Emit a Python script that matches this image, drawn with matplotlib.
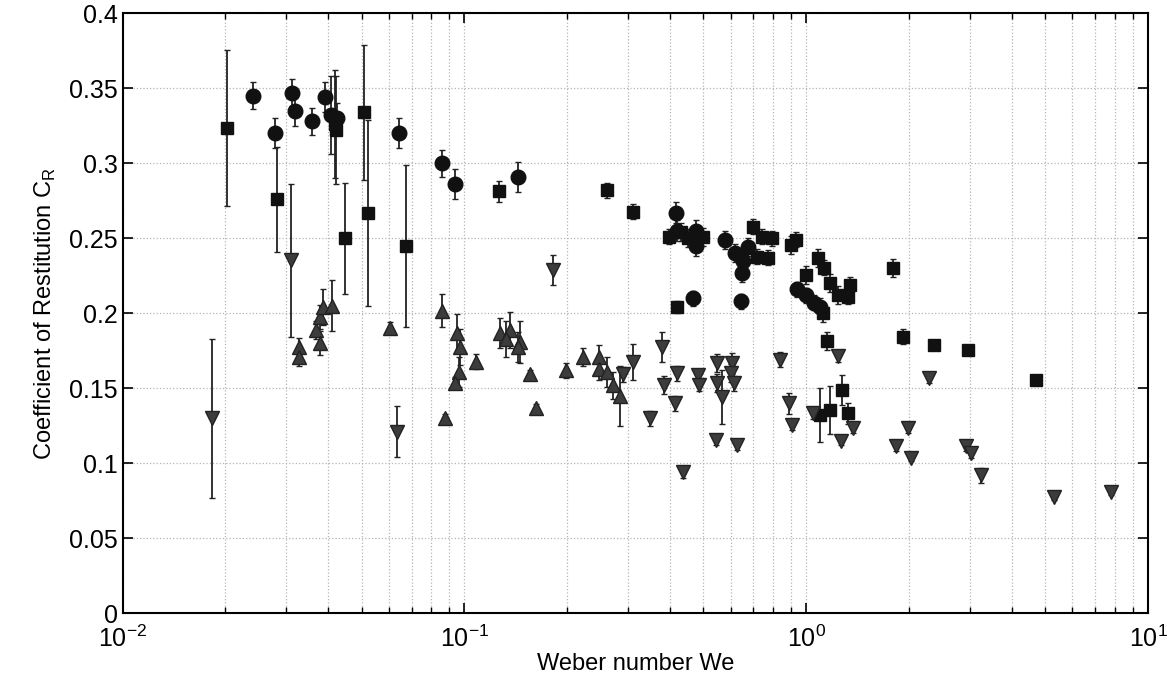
import matplotlib
matplotlib.use('Agg')
import matplotlib.pyplot as plt
import numpy as np

# circles
circ_we = [0.024, 0.0279, 0.0313, 0.0319, 0.0359, 0.0392, 0.0408, 0.0425, 0.0644, 0.0858,
           0.0938, 0.143, 0.4155, 0.417, 0.477, 0.477, 0.4645, 0.5775, 0.618, 0.646,
           0.644, 0.676, 0.654, 0.940, 1.0, 1.05, 1.096]
circ_cr = [0.345, 0.320, 0.347, 0.335, 0.328, 0.344, 0.332, 0.330, 0.320, 0.300,
           0.286, 0.291, 0.267, 0.255, 0.255, 0.245, 0.210, 0.249, 0.240, 0.2265,
           0.208, 0.244, 0.235, 0.216, 0.212, 0.207, 0.204]
circ_err = [0.009, 0.010, 0.009, 0.010, 0.009, 0.010, 0.026, 0.010, 0.010, 0.009,
            0.010, 0.010, 0.007, 0.007, 0.007, 0.007, 0.005, 0.006, 0.006, 0.006,
            0.005, 0.006, 0.006, 0.005, 0.005, 0.005, 0.006]

# squares
sq_we = [0.0202, 0.0283, 0.0418, 0.0422, 0.0447, 0.0508, 0.0522, 0.0673, 0.1263, 0.262,
         0.3115, 0.397, 0.417, 0.43, 0.45, 0.50, 0.699, 0.740, 0.791, 0.773,
         0.719, 0.899, 0.932, 1.0, 1.084, 1.129, 1.172, 1.24, 1.327, 1.342,
         1.120, 1.147, 1.789, 1.922, 2.369, 2.96, 4.68, 1.268, 1.096, 1.172, 1.327]
sq_cr = [0.3236, 0.2758, 0.326, 0.322, 0.250, 0.334, 0.2664, 0.245, 0.2813, 0.282,
         0.2676, 0.2509, 0.2042, 0.254, 0.250, 0.251, 0.2575, 0.251, 0.2498, 0.237,
         0.2376, 0.2453, 0.2487, 0.2253, 0.2364, 0.2302, 0.2198, 0.212, 0.2109, 0.2187,
         0.1998, 0.1815, 0.2298, 0.1842, 0.1787, 0.1753, 0.1553, 0.1487, 0.132, 0.1353, 0.1331]
sq_err = [0.052, 0.035, 0.036, 0.036, 0.037, 0.045, 0.062, 0.054, 0.007, 0.005,
          0.005, 0.005, 0.004, 0.006, 0.006, 0.006, 0.005, 0.005, 0.005, 0.005,
          0.005, 0.006, 0.005, 0.006, 0.006, 0.005, 0.006, 0.006, 0.005, 0.005,
          0.006, 0.006, 0.006, 0.005, 0.003, 0.003, 0.003, 0.010, 0.018, 0.016, 0.007]

# up triangles
up_we = [0.0328, 0.0328, 0.0369, 0.0377, 0.0377, 0.0386, 0.0409, 0.0604, 0.0858, 0.0878,
         0.0948, 0.0968, 0.0966, 0.0937, 0.1084, 0.1268, 0.1357, 0.1326, 0.1451, 0.1433,
         0.1553, 0.1617, 0.198, 0.2225, 0.2476, 0.2476, 0.2603, 0.2723, 0.2848]
up_cr = [0.1776, 0.1704, 0.189, 0.180, 0.1976, 0.204, 0.2047, 0.190, 0.2016, 0.1298,
         0.1864, 0.1776, 0.161, 0.1536, 0.1676, 0.1864, 0.1887, 0.183, 0.181, 0.1776,
         0.1593, 0.1365, 0.162, 0.1704, 0.1704, 0.1624, 0.161, 0.152, 0.1447]
up_err = [0.006, 0.006, 0.006, 0.008, 0.008, 0.012, 0.017, 0.004, 0.011, 0.003,
          0.013, 0.012, 0.010, 0.004, 0.005, 0.010, 0.012, 0.012, 0.014, 0.010,
          0.003, 0.003, 0.005, 0.006, 0.008, 0.007, 0.010, 0.009, 0.020]

# down triangles
dn_we = [0.0183, 0.0310, 0.0637, 0.181, 0.290, 0.3115, 0.3486, 0.377, 0.383, 0.419,
         0.4135, 0.4365, 0.483, 0.4845, 0.5465, 0.5465, 0.565, 0.544, 0.604, 0.600,
         0.614, 0.628, 0.835, 0.891, 0.906, 1.048, 1.234, 1.26, 1.371, 1.828,
         1.986, 2.018, 2.29, 2.93, 3.03, 3.24, 5.31, 7.77]
dn_cr = [0.1298, 0.2353, 0.1209, 0.2287, 0.1593, 0.1676, 0.1298, 0.1776, 0.152, 0.1598,
         0.140, 0.0942, 0.1587, 0.152, 0.1664, 0.1531, 0.1442, 0.1153, 0.1664, 0.1602,
         0.1531, 0.112, 0.169, 0.1398, 0.1253, 0.1331, 0.1716, 0.1149, 0.1231, 0.1113,
         0.1231, 0.1031, 0.1564, 0.1113, 0.1064, 0.092, 0.0776, 0.0809]
dn_err = [0.053, 0.051, 0.017, 0.010, 0.005, 0.012, 0.005, 0.010, 0.006, 0.005,
          0.005, 0.004, 0.004, 0.004, 0.006, 0.006, 0.018, 0.003, 0.007, 0.006,
          0.005, 0.003, 0.005, 0.007, 0.003, 0.004, 0.004, 0.003, 0.003, 0.003,
          0.003, 0.002, 0.003, 0.003, 0.003, 0.005, 0.002, 0.002]

plt.rcParams['font.family'] = ['Liberation Sans', 'DejaVu Sans']

fig = plt.figure(figsize=(11.67, 6.85), dpi=100)
ax = fig.add_axes([0.105, 0.105, 0.879, 0.876])

# draw each series with error bars
ax.errorbar(circ_we, circ_cr, yerr=circ_err, fmt='o', color='#111111', ms=10.5,
            ecolor='#222222', elinewidth=1.3, capsize=2, mec='#111111')
ax.errorbar(sq_we, sq_cr, yerr=sq_err, fmt='s', color='#111111', ms=9,
            ecolor='#222222', elinewidth=1.3, capsize=2, mec='#111111')
ax.errorbar(up_we, up_cr, yerr=up_err, fmt='^', color='#3c3c3c', ms=10.5,
            ecolor='#222222', elinewidth=1.3, capsize=2, mec='#222222')
ax.errorbar(dn_we, dn_cr, yerr=dn_err, fmt='v', color='#3c3c3c', ms=10.5,
            ecolor='#222222', elinewidth=1.3, capsize=2, mec='#222222')

ax.set_xscale('log')
ax.set_xlim(1e-2, 1e1)
ax.set_ylim(0, 0.4)
yt = [0, 0.05, 0.1, 0.15, 0.2, 0.25, 0.3, 0.35, 0.4]
ax.set_yticks(yt)
ax.set_yticklabels(['0', '0.05', '0.1', '0.15', '0.2', '0.25', '0.3', '0.35', '0.4'])

# matlab style grid
ax.grid(True, which='major', linestyle=':', color='#b5b5b5', linewidth=0.9)
ax.grid(True, which='minor', axis='x', linestyle=':', color='#b5b5b5', linewidth=0.9)
ax.tick_params(which='both', direction='in', top=True, right=True, labelsize=18)
ax.tick_params(axis='x', which='major', pad=9)
ax.tick_params(which='major', length=7, width=1.2)
ax.tick_params(which='minor', length=4, width=1)
for s in ax.spines.values():
    s.set_linewidth(1.5)

ax.set_xlabel('Weber number We', fontsize=17, labelpad=1)
ax.set_ylabel(r'Coefficient of Restitution C$_\mathregular{R}$', fontsize=17, labelpad=8)

fig.savefig('out.png', dpi=100)
